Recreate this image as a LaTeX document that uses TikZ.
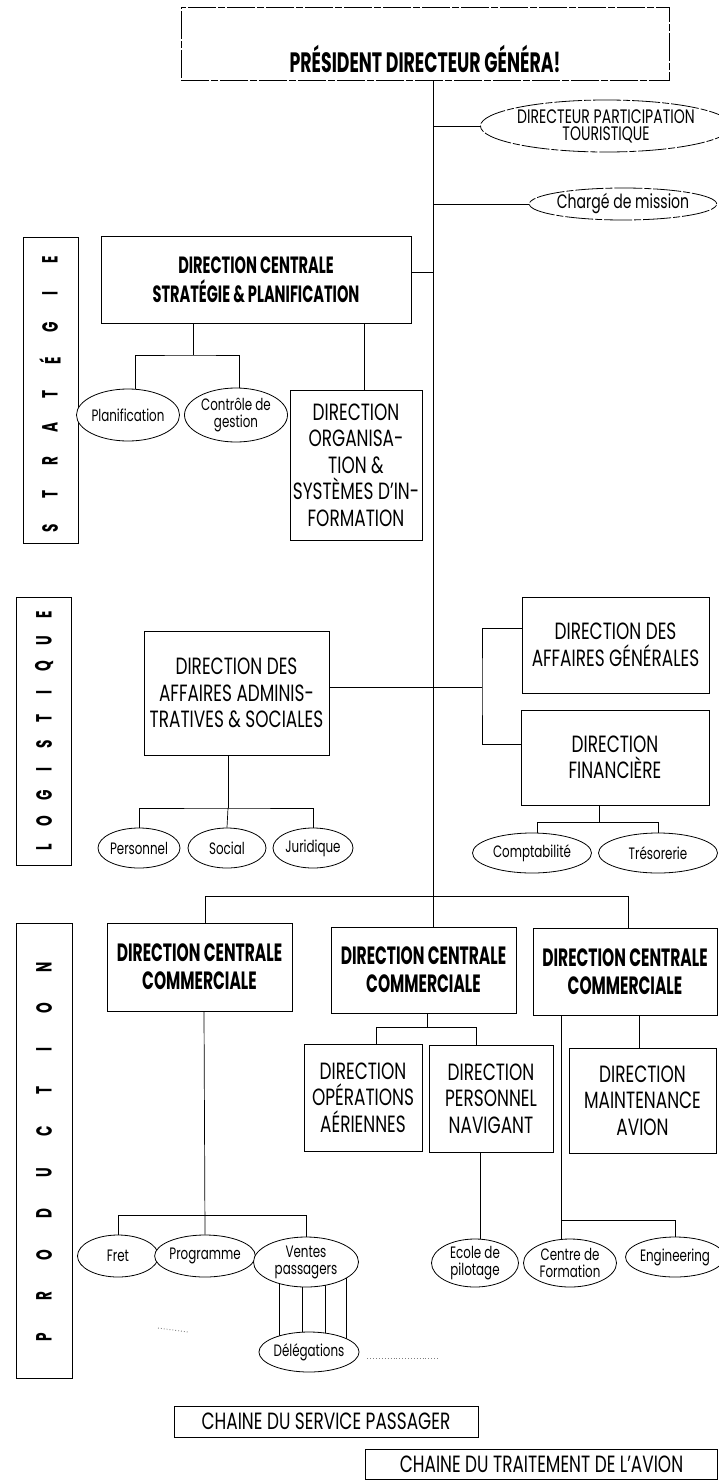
\documentclass[tikz,border=0pt]{standalone}
\usepackage{fontspec}
\setmainfont{Poppins}[FakeStretch=0.72, BoldFeatures={FakeStretch=0.62}]
\usetikzlibrary{shapes.geometric,calc,backgrounds}
\begin{document}
\begin{tikzpicture}[x=1pt,y=-1pt,
  ln/.style={line width=0.7pt},
  rbox/.style={draw, line width=0.8pt, rectangle, fill=white, inner sep=0pt, align=center, font=\fontsize{23.5}{26.5}\selectfont},
  bbox/.style={draw, line width=0.8pt, rectangle, fill=white, inner sep=0pt, align=center, font=\fontsize{25}{28}\selectfont\bfseries},
  oval/.style={draw, ellipse, line width=0.8pt, fill=white, inner sep=0pt, align=center, font=\fontsize{16.5}{17}\selectfont},
  rough/.style={dash pattern=on 28pt off 2pt on 7pt off 2pt},
  sidebox/.style={draw, line width=0.8pt, rectangle, inner sep=0pt},
  sideletter/.style={rotate=90, inner sep=0pt, font=\fontsize{22}{22}\selectfont\bfseries}]
\useasboundingbox (0,0) rectangle (719,1480);

% ---------- top ----------
\node[draw, line width=0.6pt, rough, minimum width=488, minimum height=73] (pdg) at (425,43.5) {};
\node[font=\fontsize{28}{30}\selectfont\bfseries, inner sep=0pt] (pdgtxt) at (425,59) {PRÉSIDENT DIRECTEUR GÉNÉRA!};
\node[oval, rough, minimum width=199, minimum height=52, font=\fontsize{19.5}{17}\selectfont] (dpt) at (606,126) {DIRECTEUR PARTICIPATION\\TOURISTIQUE};
\node[oval, rough, minimum width=166, minimum height=32, font=\fontsize{19.5}{19}\selectfont] (chg) at (623,204) {Chargé de mission};

% ---------- strategie ----------
\node[sidebox, minimum width=55, minimum height=306] (sideS) at (50.5,390) {};
\foreach \c [count=\i from 0] in {E,I,G,É,T,A,R,T,S}
  \node[sideletter] (ls\i) at (50,260+33.5*\i) {\c};
\node[bbox, minimum width=310, minimum height=87, font=\fontsize{23.5}{29}\selectfont\bfseries] (strat) at (256,279.5) {DIRECTION CENTRALE\\STRATÉGIE \& PLANIFICATION};
\node[oval, minimum width=87, minimum height=52] (plan) at (128,415) {Planification};
\node[oval, minimum width=103, minimum height=54] (ctrl) at (236,415) {Contrôle de\\gestion};
\node[rbox, minimum width=132, minimum height=150] (org) at (356,465) {DIRECTION\\ORGANISA-\\TION \&\\SYSTÈMES D'IN-\\FORMATION};

% ---------- logistique ----------
\node[sidebox, minimum width=55, minimum height=268] (sideL) at (43.5,731) {};
\foreach \c [count=\i from 0] in {E,U,Q,I,T,S,I,G,O,L}
  \node[sideletter] (ll\i) at (44,615+25.8*\i) {\c};
\node[rbox, minimum width=185, minimum height=124] (admin) at (236.5,693) {DIRECTION DES\\AFFAIRES ADMINIS-\\TRATIVES \& SOCIALES};
\node[rbox, minimum width=187, minimum height=96] (ag) at (615.5,645) {DIRECTION DES\\AFFAIRES GÉNÉRALES};
\node[rbox, minimum width=188, minimum height=95] (fin) at (615,757.5) {DIRECTION\\FINANCIÈRE};
\node[oval, minimum width=80, minimum height=40] (pers) at (139,848) {Personnel};
\node[oval, minimum width=78, minimum height=40] (soc) at (227,848) {Social};
\node[oval, minimum width=80, minimum height=40] (jur) at (313,848) {Juridique};
\node[oval, minimum width=119, minimum height=40] (compt) at (532,853) {Comptabilité};
\node[oval, minimum width=119, minimum height=40] (tres) at (658,853) {Trésorerie};

% ---------- production ----------
\node[sidebox, minimum width=56, minimum height=455] (sideP) at (44.5,1150.5) {};
\foreach \c [count=\i from 0] in {N,O,I,T,C,U,D,O,R,P}
  \node[sideletter] (lp\i) at (44,967+41.1*\i) {\c};
\node[bbox, minimum width=185, minimum height=88] (dccL) at (199.5,967) {DIRECTION CENTRALE\\COMMERCIALE};
\node[bbox, minimum width=185, minimum height=86] (dccM) at (423.5,970) {DIRECTION CENTRALE\\COMMERCIALE};
\node[bbox, minimum width=184, minimum height=87] (dccR) at (625,971.5) {DIRECTION CENTRALE\\COMMERCIALE};
\node[rbox, minimum width=118, minimum height=107] (ops) at (363,1097.5) {DIRECTION\\OPÉRATIONS\\AÉRIENNES};
\node[rbox, minimum width=124, minimum height=107] (pn) at (491,1098.5) {DIRECTION\\PERSONNEL\\NAVIGANT};
\node[rbox, minimum width=147, minimum height=105] (maint) at (642.5,1100.5) {DIRECTION\\MAINTENANCE\\AVION};
\node[oval, minimum width=81, minimum height=42] (fret) at (118,1256) {Fret};
\node[oval, minimum width=80, minimum height=42] (prog) at (205,1256) {Programme};
\node[oval, minimum width=105, minimum height=50] (vent) at (306,1262) {Ventes\\passagers};
\node[oval, minimum width=91, minimum height=40] (del) at (309,1352) {Délégations};
\node[oval, minimum width=87, minimum height=48] (ecole) at (475,1263) {Ecole de\\pilotage};
\node[oval, minimum width=93, minimum height=48] (cdf) at (570,1263) {Centre de\\Formation};
\node[oval, minimum width=87, minimum height=40] (eng) at (675,1257) {Engineering};

\node[rbox, minimum width=304, minimum height=31] (ch1) at (326,1421.5) {CHAINE DU SERVICE PASSAGER};
\node[rbox, minimum width=352, minimum height=30] (ch2) at (541.5,1464) {CHAINE DU TRAITEMENT DE L'AVION};

% ---------- connectors ----------
\coordinate (spine) at (433,0);
\coordinate (s1) at (193,355);
\coordinate (pl) at (135,0);
\coordinate (cl) at (239,0);
\coordinate (so) at (364,0);
\coordinate (br) at (482,687);
\coordinate (a1) at (228,808);
\coordinate (f1) at (599,822);
\coordinate (cp) at (537,0);
\coordinate (p1) at (433,896);
\coordinate (dl) at (205,0);
\coordinate (dr) at (628,0);
\coordinate (m1) at (427,1027);
\coordinate (m1L) at (376,1027);
\coordinate (m1R) at (476,1027);
\coordinate (mt) at (639,0);
\coordinate (ec) at (480,0);
\coordinate (r1) at (561,1220);
\coordinate (l1) at (204,1215);
\coordinate (mk) at (158,1328);
\begin{pgfonlayer}{background}
\draw[ln] (pdg.south -| spine) -- (dccM.north -| spine);
\draw[ln] (dpt.west) -- (dpt.west -| spine);
\draw[ln] (chg.west) -- (chg.west -| spine);
\draw[ln] ($(strat.east)+(0,-7)$) -- ($(strat.east -| spine)+(0,-7)$);
\draw[ln] (strat.south -| s1) -- (s1);
\draw[ln] (plan.north -| pl) |- (s1) -| (ctrl.north -| cl);
\draw[ln] (strat.south -| so) -- (org.north -| so);
\draw[ln] (admin.east |- br) -- (br);
\draw[ln] ($(ag.west)+(0,-17)$) -| (br) |- ($(fin.west)+(0,-13)$);
\draw[ln] (admin.south -| a1) -- (a1);
\draw[ln] (pers.north) |- (a1) -| (jur.north);
\draw[ln] (a1) -- (soc.north);
\draw[ln] (fin.south -| f1) -- (f1);
\draw[ln] (compt.north -| cp) |- (f1) -| (tres.north);
\draw[ln] (dccL.north -| dl) |- (p1) -| (dccR.north -| dr);
\draw[ln] (dccM.south -| m1) -- (m1);
\draw[ln] (ops.north -| m1L) -- (m1L) -- (m1R) -- (pn.north -| m1R);
\draw[ln] (dccR.south -| mt) -- (maint.north -| mt);
\draw[ln] (dccR.south -| r1) -- (r1 |- cdf.north);
\draw[ln] (r1) -| (eng.north);
\draw[ln] (ecole.north -| ec) -- (pn.south -| ec);
\draw[ln] (dccL.south -| l1) -- (prog.north);
\draw[ln] (fret.north) |- (l1) -| (vent.north);
\foreach \dx in {-27,-4,19,40}
  \draw[ln] ($(vent.center)+(\dx,0)$) -- ($(vent.center)+(\dx,90)$);
\end{pgfonlayer}
\draw[dotted, line width=0.9pt, gray] ($(del.east)+(8,6)$) -- ++(70,0);
\draw[dotted, line width=0.9pt, gray] (mk) -- ++(30,4);
\end{tikzpicture}
\end{document}
